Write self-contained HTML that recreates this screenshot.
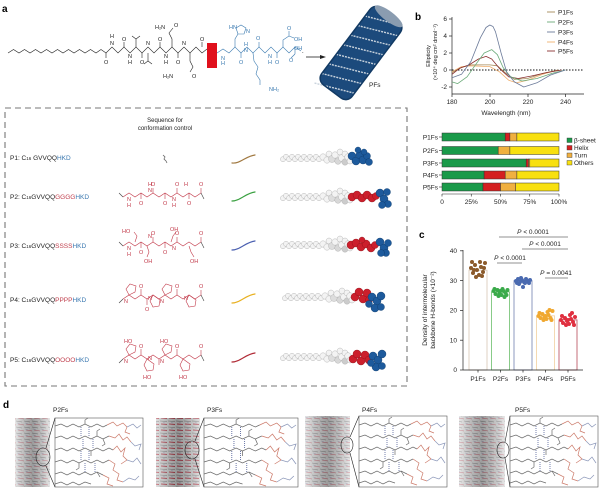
<!DOCTYPE html>
<html><head><meta charset="utf-8"><style>
html,body{margin:0;padding:0;background:#fff;}
svg{display:block;font-family:"Liberation Sans",Arial,sans-serif;}
</style></head><body>
<svg width="600" height="489" viewBox="0 0 600 489" xmlns="http://www.w3.org/2000/svg">
<defs>
<pattern id="fib" width="8" height="6" patternUnits="userSpaceOnUse">
<rect width="8" height="6" fill="#d4d4d4"/>
<line x1="0" y1="1" x2="6" y2="2" stroke="#6a6a6a" stroke-width="0.6"/>
<line x1="2" y1="4" x2="8" y2="5" stroke="#b84050" stroke-width="0.5"/>
<line x1="1" y1="3" x2="4" y2="3.5" stroke="#8090b8" stroke-width="0.4"/>
</pattern>
<pattern id="fib2" width="8" height="6" patternUnits="userSpaceOnUse">
<rect width="8" height="6" fill="#c8c8c8"/>
<line x1="0" y1="1" x2="7" y2="1.5" stroke="#555" stroke-width="0.6"/>
<line x1="1" y1="4" x2="7" y2="4.5" stroke="#a82030" stroke-width="0.9"/>
<line x1="3" y1="2.5" x2="5" y2="3" stroke="#7080a8" stroke-width="0.4"/>
</pattern>
<linearGradient id="fg" x1="0" x2="1" y1="0" y2="0">
<stop offset="0" stop-color="#fff" stop-opacity="0.45"/>
<stop offset="0.5" stop-color="#333" stop-opacity="0.35"/>
<stop offset="1" stop-color="#fff" stop-opacity="0.45"/>
</linearGradient>
<g id="zc" fill="none" stroke-width="0.7">
<g stroke="#6a6a6a">
<polyline points="0,8 6,6 12,9 18,6 24,9 30,6 36,9 42,6 48,9 52,7"/>
<polyline points="0,20 6,18 12,21 18,18 24,21 30,18 36,21 42,18 48,21 54,18"/>
<polyline points="0,32 6,30 12,33 18,30 24,33 30,30 36,33 42,30 48,33 54,30 58,32"/>
<polyline points="0,44 6,42 12,45 18,42 24,45 30,42 36,45 42,42 48,45 54,42"/>
<polyline points="0,56 6,54 12,57 18,54 24,57 30,54 36,57 42,54 48,57"/>
<polyline points="0,66 6,64 12,67 18,64 24,67 30,64 36,66"/>
<polyline points="30,6 30,2 33,0"/><polyline points="42,18 42,13 45,11"/>
<polyline points="36,33 36,38"/><polyline points="24,45 24,50 21,52"/>
<polyline points="48,21 50,26 47,28"/><polyline points="42,54 45,59"/>
</g>
<g stroke="#3a4a8a" stroke-dasharray="1,1">
<line x1="26" y1="9" x2="26" y2="18"/><line x1="34" y1="9" x2="34" y2="18"/>
<line x1="28" y1="21" x2="28" y2="30"/><line x1="38" y1="21" x2="38" y2="30"/>
<line x1="26" y1="33" x2="26" y2="42"/><line x1="34" y1="33" x2="34" y2="42"/>
<line x1="30" y1="45" x2="30" y2="54"/><line x1="40" y1="45" x2="40" y2="54"/>
</g>
<g stroke="#cc7a6a">
<polyline points="52,7 58,4 62,8 68,5 72,9 70,14 75,16"/>
<polyline points="54,18 60,20 64,16 68,22 72,19 76,24"/>
<polyline points="58,32 62,28 66,34 70,30 68,38 72,42 66,46"/>
<polyline points="54,42 60,46 58,52 64,56 62,62 68,64"/>
<polyline points="48,57 54,60 52,66 58,68"/>
</g>
<g stroke="#8a96b8">
<polyline points="72,9 78,6 82,10 86,7"/><polyline points="76,24 80,28 86,26 84,32"/>
<polyline points="72,42 78,44 82,40 86,46"/><polyline points="68,64 74,60 80,62 84,58"/>
</g>
</g>
<g id="wc" fill="#f3f3f3" stroke="#a8a8a8" stroke-width="0.4">
<circle cx="0" cy="1.2" r="2.6"/><circle cx="3" cy="-1.2" r="2.6"/><circle cx="6" cy="1.2" r="2.6"/><circle cx="9" cy="-1.2" r="2.6"/><circle cx="12" cy="1.2" r="2.6"/><circle cx="15" cy="-1.2" r="2.6"/><circle cx="18" cy="1.2" r="2.6"/><circle cx="21" cy="-1.2" r="2.6"/><circle cx="24" cy="1.2" r="2.6"/><circle cx="27" cy="-1.2" r="2.6"/><circle cx="30" cy="1.2" r="2.6"/><circle cx="33" cy="-1.2" r="2.6"/><circle cx="36" cy="1.2" r="2.6"/>
<circle cx="40" cy="-1" r="3.2"/><circle cx="44" cy="2" r="3.2"/><circle cx="46" cy="-4" r="3"/><circle cx="49" cy="1" r="3.5" fill="#ddd"/><circle cx="52" cy="-3" r="3.2"/><circle cx="55" cy="3" r="3.3" fill="#d8d8d8"/><circle cx="57" cy="-6" r="3"/><circle cx="59" cy="0" r="3.5"/><circle cx="62" cy="4" r="3.2" fill="#ccc"/><circle cx="62" cy="-4" r="3"/><circle cx="65" cy="-1" r="3.3"/><circle cx="67" cy="3" r="3"/>
</g>
</defs>
<rect width="600" height="489" fill="#fff"/>

<!-- ===== Panel a ===== -->
<text x="2" y="12" font-size="10" font-weight="bold">a</text>
<g fill="none" stroke="#222" stroke-width="0.6">
<polyline points="8,53 13.5,49.5 19,53 24.5,49.5 30,53 35.5,49.5 41,53 46.5,49.5 52,53 57.5,49.5 63,53 68.5,49.5 74,53 79.5,49.5 85,53 90.5,49.5 96,53 101,49.5"/>
<polyline points="101,49.5 106,53 112,47 118,53 124,47 130,53 136,47 142,53 148,47 154,53 160,47 166,53 172,47 178,53 184,47 190,53 196,47 202,53 207,49"/>
<line x1="106" y1="53" x2="106" y2="58"/><line x1="124" y1="47" x2="124" y2="42"/><line x1="142" y1="53" x2="142" y2="58"/><line x1="160" y1="47" x2="160" y2="42"/><line x1="178" y1="53" x2="178" y2="58"/><line x1="202" y1="47" x2="202" y2="42"/>
<polyline points="136,47 136,39 132,36"/><line x1="136" y1="39" x2="140" y2="36"/>
<polyline points="148,53 148,61 144,64"/><line x1="148" y1="61" x2="152" y2="64"/>
<polyline points="172,47 172,39 169,33 173,28"/>
<polyline points="190,53 190,61 193,67 190,72"/>
</g>
<g font-size="5.5" fill="#222">
<text x="104" y="64">O</text><text x="122" y="41">O</text><text x="140" y="64">O</text><text x="158" y="41">O</text><text x="176" y="64">O</text><text x="200" y="41">O</text>
<text x="110" y="38">H</text><text x="110" y="45">N</text><text x="128" y="58">N</text><text x="128" y="64">H</text>
<text x="146" y="45">N</text><text x="164" y="58">N</text><text x="164" y="64">H</text><text x="182" y="45">N</text>
<text x="155" y="29">H₂N</text><text x="174" y="27">O</text><text x="163" y="78">H₂N</text><text x="192" y="78">O</text>
</g>
<rect x="207" y="43" width="10" height="25" fill="#e0101c"/>
<g fill="none" stroke="#3a7ab0" stroke-width="0.6">
<polyline points="217,53 223,49 229,53 235,47 241,53 247,47 253,53 259,47 265,53 271,47 277,53 283,47 289,53 295,47 301,51"/>
<line x1="241" y1="53" x2="241" y2="58"/><line x1="259" y1="47" x2="259" y2="42"/><line x1="277" y1="53" x2="277" y2="58"/>
<polyline points="235,47 235,39 238,34"/>
<polygon points="238,34 236,28 241,25 246,28 244,34"/>
<polyline points="253,53 254,61 258,67 256,74 260,80 260,85"/>
<polyline points="283,47 283,40 289,36 289,31"/><line x1="289" y1="36" x2="294" y2="38"/>
<line x1="295" y1="47" x2="295" y2="54"/><line x1="295" y1="54" x2="291" y2="58"/>
</g>
<g font-size="5.5" fill="#3a7ab0">
<text x="229" y="29">HN</text><text x="246" y="33">N</text><text x="221" y="60">N</text><text x="221" y="65">H</text>
<text x="244" y="46">H</text><text x="244" y="52">N</text><text x="268" y="58">N</text><text x="268" y="64">H</text>
<text x="256" y="40">O</text><text x="239" y="64">O</text><text x="275" y="64">O</text>
<text x="287" y="30">O</text><text x="294" y="41">OH</text><text x="294" y="50">OH</text><text x="289" y="62">O</text>
<text x="269" y="91">NH₂</text>
</g>
<text x="302" y="53" font-size="6">.</text>
<line x1="306" y1="57" x2="322" y2="57" stroke="#222" stroke-width="0.8"/>
<polygon points="326,57 320,55 320,59" fill="#222"/>
<!-- fibril -->
<g transform="translate(361,53) rotate(-53)">
<rect x="-48" y="-19" width="96" height="38" rx="8" fill="#1c4a7c"/>
<g stroke="#c9d3dd" stroke-width="1.4" stroke-dasharray="2,1">
<line x1="-52" y1="-19" x2="-36" y2="19"/><line x1="-40" y1="-19" x2="-24" y2="19"/><line x1="-28" y1="-19" x2="-12" y2="19"/><line x1="-16" y1="-19" x2="0" y2="19"/><line x1="-4" y1="-19" x2="12" y2="19"/><line x1="8" y1="-19" x2="24" y2="19"/><line x1="20" y1="-19" x2="36" y2="19"/><line x1="32" y1="-19" x2="46" y2="15"/>
</g>
<rect x="-48" y="-19" width="96" height="38" rx="8" fill="none" stroke="#123a64" stroke-width="1.5"/>
<ellipse cx="46" cy="0" rx="5" ry="17" fill="#8a9cb0"/>
</g>
<text x="369" y="87" font-size="6.5" fill="#222">PFs</text>

<!-- dashed box -->
<rect x="5" y="108" width="402" height="278" fill="none" stroke="#777" stroke-width="1.1" stroke-dasharray="6,4"/>
<text x="165" y="122" font-size="6" text-anchor="middle" fill="#222">Sequence for</text>
<text x="165" y="130" font-size="6" text-anchor="middle" fill="#222">conformation control</text>

<g font-size="6.5" fill="#222">
<text x="10" y="160">P1:  C<tspan font-size="4.5">16</tspan> GVVQQ<tspan fill="#3a78b0">HKD</tspan></text>
<text x="10" y="199">P2:  C<tspan font-size="4.5">16</tspan>GVVQQ<tspan fill="#c0404e">GGGG</tspan><tspan fill="#3a78b0">HKD</tspan></text>
<text x="10" y="248">P3:  C<tspan font-size="4.5">16</tspan>GVVQQ<tspan fill="#c0404e">SSSS</tspan><tspan fill="#3a78b0">HKD</tspan></text>
<text x="10" y="302">P4:  C<tspan font-size="4.5">16</tspan>GVVQQ<tspan fill="#c0404e">PPPP</tspan><tspan fill="#3a78b0">HKD</tspan></text>
<text x="10" y="362">P5:  C<tspan font-size="4.5">16</tspan>GVVQQ<tspan fill="#c0404e">OOOO</tspan><tspan fill="#3a78b0">HKD</tspan></text>
</g>
<polyline points="163,155 165,157 164,159 166,161 167,163" fill="none" stroke="#666" stroke-width="0.8"/>

<!-- red structures -->
<g fill="none" stroke="#c23a4a" stroke-width="0.6">
<polyline points="123,197 129,193 135,197 141,193 147,197 153,193 159,197 165,193 171,197 177,193 183,197 189,193 195,197 201,193"/>
<line x1="141" y1="193" x2="141" y2="199"/><line x1="165" y1="193" x2="165" y2="199"/><line x1="189" y1="193" x2="189" y2="199"/><line x1="153" y1="193" x2="153" y2="188"/><line x1="177" y1="193" x2="177" y2="188"/><line x1="201" y1="193" x2="201" y2="188"/>
<polyline points="123,246 129,242 135,246 141,242 147,246 153,242 159,246 165,242 171,246 177,242 183,246 189,242 195,246 201,242"/>
<polyline points="135,242 137,236 134,232"/><polyline points="147,246 149,252 147,257"/><polyline points="171,242 173,236 176,232"/><polyline points="189,246 191,252 194,257"/>
<line x1="141" y1="242" x2="141" y2="248"/><line x1="165" y1="242" x2="165" y2="248"/><line x1="153" y1="242" x2="153" y2="237"/><line x1="177" y1="242" x2="177" y2="237"/><line x1="201" y1="242" x2="201" y2="237"/>
<polyline points="123,299 129,295 135,299 141,295 147,299 153,295 159,299 165,295 171,299 177,295 183,299 189,295 195,299 201,295"/>
<polygon points="129,295 126,289 130,284 136,286 135,292"/><polygon points="153,295 150,301 153,307 159,306 160,300"/><polygon points="165,295 162,289 166,284 172,286 171,292"/><polygon points="189,295 186,301 189,307 195,306 196,300"/>
<line x1="141" y1="295" x2="141" y2="289"/><line x1="177" y1="295" x2="177" y2="289"/><line x1="147" y1="299" x2="147" y2="305"/><line x1="201" y1="295" x2="201" y2="290"/>
<polyline points="123,359 129,355 135,359 141,355 147,359 153,355 159,359 165,355 171,359 177,355 183,359 189,355 195,359 201,355"/>
<polygon points="129,355 126,349 130,344 136,346 135,352"/><polygon points="147,359 144,365 147,371 153,370 154,364"/><polygon points="165,355 162,349 166,344 172,346 171,352"/><polygon points="183,359 180,365 183,371 189,370 190,364"/>
<line x1="141" y1="355" x2="141" y2="349"/><line x1="177" y1="355" x2="177" y2="349"/><line x1="159" y1="359" x2="159" y2="365"/><line x1="201" y1="355" x2="201" y2="350"/>
</g>
<g stroke="#444" stroke-width="0.6">
<line x1="119" y1="193" x2="123" y2="197"/><line x1="201" y1="193" x2="204" y2="199"/>
<line x1="119" y1="242" x2="123" y2="246"/><line x1="201" y1="242" x2="204" y2="248"/>
<line x1="119" y1="303" x2="123" y2="299"/><line x1="201" y1="295" x2="204" y2="301"/>
<line x1="119" y1="363" x2="123" y2="359"/><line x1="201" y1="355" x2="204" y2="361"/>
</g>
<g font-size="5.5" fill="#c23a4a">
<text x="127" y="201">N</text><text x="127" y="207">H</text><text x="139" y="205">O</text><text x="148" y="186">H</text><text x="148" y="192">N</text><text x="151" y="186">O</text><text x="163" y="205">O</text><text x="172" y="201">N</text><text x="172" y="207">H</text><text x="175" y="186">O</text><text x="184" y="186">H</text><text x="187" y="205">O</text><text x="199" y="186">O</text>
<text x="122" y="233">HO</text><text x="127" y="250">N</text><text x="127" y="256">H</text><text x="139" y="254">O</text><text x="144" y="263">OH</text><text x="148" y="238">N</text><text x="151" y="235">O</text><text x="170" y="231">OH</text><text x="172" y="250">N</text><text x="163" y="254">O</text><text x="175" y="235">O</text><text x="190" y="263">OH</text><text x="199" y="235">O</text>
<text x="124" y="303">N</text><text x="139" y="288">O</text><text x="145" y="311">O</text><text x="148" y="300">N</text><text x="160" y="303">N</text><text x="175" y="288">O</text><text x="184" y="300">N</text><text x="199" y="288">O</text>
<text x="124" y="343">HO</text><text x="124" y="363">N</text><text x="139" y="348">O</text><text x="143" y="379">HO</text><text x="148" y="360">N</text><text x="160" y="343">HO</text><text x="160" y="363">N</text><text x="175" y="348">O</text><text x="179" y="379">HO</text><text x="199" y="348">O</text>
</g>

<!-- ribbons -->
<g fill="none" stroke-width="1.2" stroke-linecap="round">
<path d="M232,163 C240,164 246,156 255,155" stroke="#a07840"/>
<path d="M232,201 C240,201 246,193 255,192" stroke="#3aa040"/>
<path d="M232,250 C240,250 246,242 255,241" stroke="#4a5fb0"/>
<path d="M232,303 C240,303 246,295 255,294" stroke="#e8b020"/>
<path d="M232,362 C240,362 246,354 255,353" stroke="#b02a35"/>
</g>

<!-- space filling -->
<use href="#wc" x="283" y="158"/>
<use href="#wc" x="283" y="197"/>
<use href="#wc" x="283" y="245"/>
<use href="#wc" x="285" y="297"/>
<use href="#wc" x="283" y="357"/>
<g fill="#1d5a9c" stroke="#0e3a6a" stroke-width="0.4">
<circle cx="352" cy="156" r="4"/><circle cx="356" cy="161" r="4"/><circle cx="360" cy="155" r="4"/><circle cx="363" cy="160" r="4"/><circle cx="367" cy="156" r="3.5"/><circle cx="369" cy="162" r="3.5"/><circle cx="358" cy="150" r="3"/><circle cx="364" cy="152" r="3"/>
</g>
<g fill="#cc1f2c" stroke="#8a1018" stroke-width="0.4">
<circle cx="352" cy="197" r="4"/><circle cx="357" cy="195" r="4"/><circle cx="362" cy="198" r="4"/><circle cx="367" cy="195" r="4"/><circle cx="372" cy="198" r="4"/><circle cx="376" cy="196" r="3.5"/>
<circle cx="351" cy="245" r="4"/><circle cx="356" cy="243" r="4"/><circle cx="361" cy="247" r="4"/><circle cx="366" cy="244" r="4"/><circle cx="371" cy="248" r="4"/><circle cx="375" cy="245" r="3.5"/><circle cx="362" cy="240" r="3"/>
<circle cx="355" cy="297" r="4"/><circle cx="359" cy="292" r="4"/><circle cx="363" cy="299" r="4"/><circle cx="367" cy="293" r="4"/><circle cx="369" cy="300" r="3.5"/>
<circle cx="353" cy="359" r="4"/><circle cx="357" cy="354" r="4"/><circle cx="361" cy="361" r="4"/><circle cx="365" cy="355" r="4"/><circle cx="369" cy="360" r="4"/>
</g>
<g fill="#1d5a9c" stroke="#0e3a6a" stroke-width="0.4">
<circle cx="380" cy="193" r="4"/><circle cx="384" cy="199" r="4"/><circle cx="387" cy="192" r="3.5"/><circle cx="388" cy="204" r="3.5"/><circle cx="382" cy="205" r="3.5"/>
<circle cx="380" cy="242" r="4"/><circle cx="384" cy="248" r="4"/><circle cx="388" cy="243" r="3.5"/><circle cx="386" cy="253" r="3.5"/><circle cx="381" cy="253" r="3.5"/>
<circle cx="372" cy="297" r="4"/><circle cx="377" cy="301" r="4"/><circle cx="381" cy="296" r="4"/><circle cx="375" cy="308" r="4"/><circle cx="381" cy="307" r="3.5"/><circle cx="369" cy="304" r="3.5"/>
<circle cx="373" cy="356" r="4"/><circle cx="378" cy="360" r="4"/><circle cx="382" cy="354" r="4"/><circle cx="376" cy="367" r="4"/><circle cx="382" cy="366" r="3.5"/><circle cx="371" cy="363" r="3.5"/>
</g>

<!-- ===== Panel b CD ===== -->
<text x="415" y="20" font-size="10" font-weight="bold">b</text>
<g stroke="#222" stroke-width="0.7" fill="none">
<line x1="452" y1="17" x2="452" y2="94"/><line x1="452" y1="94" x2="584" y2="94"/>
<line x1="449" y1="19" x2="452" y2="19"/><line x1="449" y1="36" x2="452" y2="36"/><line x1="449" y1="53" x2="452" y2="53"/><line x1="449" y1="70" x2="452" y2="70"/><line x1="449" y1="87" x2="452" y2="87"/>
<line x1="452" y1="94" x2="452" y2="97"/><line x1="490" y1="94" x2="490" y2="97"/><line x1="528" y1="94" x2="528" y2="97"/><line x1="565.6" y1="94" x2="565.6" y2="97"/>
</g>
<g font-size="6.5" fill="#222" text-anchor="end">
<text x="447" y="21">6</text><text x="447" y="38">4</text><text x="447" y="55">2</text><text x="447" y="72">0</text><text x="447" y="89">-2</text>
</g>
<g font-size="6.5" fill="#222" text-anchor="middle">
<text x="452" y="104">180</text><text x="490" y="104">200</text><text x="528" y="104">220</text><text x="565.6" y="104">240</text>
<text x="506" y="115">Wavelength (nm)</text>
</g>
<g font-size="5.6" fill="#222" text-anchor="middle">
<text transform="translate(430,56) rotate(-90)">Ellipticity</text>
<text transform="translate(437,52) rotate(-90)">(×10⁴ deg cm² dmol⁻¹)</text>
</g>
<line x1="452" y1="70" x2="584" y2="70" stroke="#111" stroke-width="1" stroke-dasharray="1.5,1.5"/>
<g fill="none" stroke-width="0.8" stroke-linejoin="round">
<polyline stroke="#f0b070" points="452,71.7 461.5,66.6 470.9,65.8 489.8,66.6 499.3,71.7 508.7,80.2 516.3,82.8 527.6,80.2 542.7,74.3 557.8,70"/>
<polyline stroke="#a48a5a" points="452,72.6 461.5,67.5 470.9,64.9 489.8,64.9 497.4,65.8 505,72.6 514.4,79.4 527.6,78.5 542.7,73.4 557.8,70"/>
<polyline stroke="#8b3030" points="452,74.3 459.6,68.3 469,64.9 478.5,59 486,56.4 491.7,59 499.3,68.3 508.7,76.8 518.2,78.5 531.4,76 546.5,72.6 561.6,70"/>
<polyline stroke="#6aaa78" points="452,81.9 457.7,83.6 467.1,76.8 476.6,63.2 484.2,53 491.7,49.6 497.4,54.7 503.1,67.5 510.6,76.8 522,81 537,78.5 552,73.4 565.4,70"/>
<polyline stroke="#6b7a99" points="452,77.7 461.5,74.3 470.9,61.5 480.4,37.7 486,27.5 489.8,25 493,26.5 495.5,31.8 501.1,53 506.8,72.6 514.4,81.9 523.8,87 537,82.8 550.3,75.1 565.4,70"/>
</g>
<g stroke-width="0.9">
<line x1="547" y1="12" x2="555" y2="12" stroke="#a48a5a"/>
<line x1="547" y1="22" x2="555" y2="22" stroke="#6aaa78"/>
<line x1="547" y1="32" x2="555" y2="32" stroke="#6b7a99"/>
<line x1="547" y1="42" x2="555" y2="42" stroke="#f0b070"/>
<line x1="547" y1="51" x2="555" y2="51" stroke="#8b3030"/>
</g>
<g font-size="6.5" fill="#222">
<text x="558" y="14.5">P1Fs</text><text x="558" y="24.5">P2Fs</text><text x="558" y="34.5">P3Fs</text><text x="558" y="44.5">P4Fs</text><text x="558" y="53.5">P5Fs</text>
</g>

<!-- ===== Panel b bars ===== -->
<g stroke="#333" stroke-width="0.5">
<rect x="442" y="133" width="63.2" height="8" fill="#1a9a4a"/><rect x="505.2" y="133" width="4.7" height="8" fill="#d42020"/><rect x="509.9" y="133" width="7" height="8" fill="#f0b040"/><rect x="516.9" y="133" width="42.1" height="8" fill="#f8e010"/>
<rect x="442" y="146.5" width="56.2" height="8" fill="#1a9a4a"/><rect x="498.2" y="146.5" width="11.7" height="8" fill="#f0b040"/><rect x="509.9" y="146.5" width="49.1" height="8" fill="#f8e010"/>
<rect x="442" y="159" width="84.2" height="8" fill="#1a9a4a"/><rect x="526.2" y="159" width="2.3" height="8" fill="#d42020"/><rect x="528.5" y="159" width="1.3" height="8" fill="#f0b040"/><rect x="529.8" y="159" width="29.2" height="8" fill="#f8e010"/>
<rect x="442" y="171" width="42.1" height="8" fill="#1a9a4a"/><rect x="484.1" y="171" width="21.1" height="8" fill="#d42020"/><rect x="505.2" y="171" width="11.7" height="8" fill="#f0b040"/><rect x="516.9" y="171" width="42.1" height="8" fill="#f8e010"/>
<rect x="442" y="183" width="41" height="8" fill="#1a9a4a"/><rect x="483" y="183" width="17.5" height="8" fill="#d42020"/><rect x="500.5" y="183" width="15.2" height="8" fill="#f0b040"/><rect x="515.7" y="183" width="43.3" height="8" fill="#f8e010"/>
</g>
<g stroke="#222" stroke-width="0.6">
<line x1="442" y1="194" x2="559" y2="194"/>
<line x1="442" y1="194" x2="442" y2="196.5"/><line x1="471.25" y1="194" x2="471.25" y2="196.5"/><line x1="500.5" y1="194" x2="500.5" y2="196.5"/><line x1="529.75" y1="194" x2="529.75" y2="196.5"/><line x1="559" y1="194" x2="559" y2="196.5"/>
<line x1="439" y1="137" x2="442" y2="137"/><line x1="439" y1="150.5" x2="442" y2="150.5"/><line x1="439" y1="163" x2="442" y2="163"/><line x1="439" y1="175" x2="442" y2="175"/><line x1="439" y1="187" x2="442" y2="187"/>
</g>
<g font-size="6.5" fill="#222" text-anchor="end">
<text x="438" y="139.5">P1Fs</text><text x="438" y="153">P2Fs</text><text x="438" y="165.5">P3Fs</text><text x="438" y="177.5">P4Fs</text><text x="438" y="189.5">P5Fs</text>
</g>
<g font-size="6.5" fill="#222" text-anchor="middle">
<text x="442" y="204">0</text><text x="471.25" y="204">25%</text><text x="500.5" y="204">50%</text><text x="529.75" y="204">75%</text><text x="559" y="204">100%</text>
</g>
<g stroke="#333" stroke-width="0.4">
<rect x="567" y="138" width="5" height="4.5" fill="#1a9a4a"/><rect x="567" y="145.5" width="5" height="4.5" fill="#d42020"/><rect x="567" y="153" width="5" height="4.5" fill="#f0b040"/><rect x="567" y="160.5" width="5" height="4.5" fill="#f8e010"/>
</g>
<g font-size="6.5" fill="#222">
<text x="574" y="142.5">β-sheet</text><text x="574" y="150">Helix</text><text x="574" y="157.5">Turn</text><text x="574" y="165">Others</text>
</g>

<!-- ===== Panel c ===== -->
<text x="419" y="238" font-size="10" font-weight="bold">c</text>
<g stroke-width="0.8" fill="#fff">
<rect x="469" y="270.2" width="18" height="99.8" stroke="#d8c6b4"/>
<rect x="491.5" y="291.9" width="18" height="78.1" stroke="#6cbf6c"/>
<rect x="514" y="280.6" width="18" height="89.4" stroke="#7080b0"/>
<rect x="536.5" y="315.8" width="18" height="54.2" stroke="#f2d0a0"/>
<rect x="559" y="319.9" width="18" height="50.1" stroke="#b84858"/>
</g>
<g stroke="#222" stroke-width="0.7">
<line x1="463" y1="250" x2="463" y2="370"/><line x1="463" y1="370" x2="583" y2="370"/>
<line x1="460" y1="250.8" x2="463" y2="250.8"/><line x1="460" y1="280.6" x2="463" y2="280.6"/><line x1="460" y1="310.4" x2="463" y2="310.4"/><line x1="460" y1="340.2" x2="463" y2="340.2"/><line x1="460" y1="370" x2="463" y2="370"/>
<line x1="478" y1="370" x2="478" y2="372.5"/><line x1="500.5" y1="370" x2="500.5" y2="372.5"/><line x1="523" y1="370" x2="523" y2="372.5"/><line x1="545.5" y1="370" x2="545.5" y2="372.5"/><line x1="568" y1="370" x2="568" y2="372.5"/>
</g>
<g font-size="6.5" fill="#222" text-anchor="end">
<text x="457" y="253">40</text><text x="457" y="283">30</text><text x="457" y="312.5">20</text><text x="457" y="342.5">10</text><text x="457" y="372">0</text>
</g>
<g font-size="6.5" fill="#222" text-anchor="middle">
<text x="478" y="381">P1Fs</text><text x="500.5" y="381">P2Fs</text><text x="523" y="381">P3Fs</text><text x="545.5" y="381">P4Fs</text><text x="568" y="381">P5Fs</text>
<text transform="translate(427,310) rotate(-90)">Density of intermolecular</text>
<text transform="translate(435,310) rotate(-90)">backbone H-bonds (×10⁻²)</text>
</g>
<g fill="#8b5a2b">
<circle cx="471" cy="268" r="2"/><circle cx="473" cy="273" r="2"/><circle cx="475" cy="265" r="2"/><circle cx="477" cy="270" r="2"/><circle cx="479" cy="275" r="2"/><circle cx="481" cy="267" r="2"/><circle cx="483" cy="272" r="2"/><circle cx="485" cy="263" r="2"/><circle cx="472" cy="262" r="2"/><circle cx="476" cy="277" r="2"/><circle cx="480" cy="262" r="2"/><circle cx="484" cy="268" r="2"/><circle cx="474" cy="270" r="2"/><circle cx="482" cy="276" r="2"/>
</g>
<g fill="#3aaa4a">
<circle cx="493.5" cy="291" r="2"/><circle cx="495.5" cy="294" r="2"/><circle cx="497.5" cy="290" r="2"/><circle cx="499.5" cy="293" r="2"/><circle cx="501.5" cy="295" r="2"/><circle cx="503.5" cy="291" r="2"/><circle cx="505.5" cy="293" r="2"/><circle cx="507.5" cy="290" r="2"/><circle cx="494.5" cy="289" r="2"/><circle cx="498.5" cy="296" r="2"/><circle cx="502.5" cy="289" r="2"/><circle cx="506.5" cy="295" r="2"/><circle cx="500.5" cy="291" r="2"/><circle cx="504.5" cy="297" r="2"/>
</g>
<g fill="#4a6ab0">
<circle cx="516" cy="281" r="2"/><circle cx="518" cy="279" r="2"/><circle cx="520" cy="282" r="2"/><circle cx="522" cy="280" r="2"/><circle cx="524" cy="282" r="2"/><circle cx="526" cy="279" r="2"/><circle cx="528" cy="281" r="2"/><circle cx="530" cy="280" r="2"/><circle cx="517" cy="283" r="2"/><circle cx="521" cy="278" r="2"/><circle cx="525" cy="283" r="2"/><circle cx="529" cy="283" r="2"/><circle cx="523" cy="287" r="2"/><circle cx="519" cy="284" r="2"/>
</g>
<g fill="#f0a830">
<circle cx="538.5" cy="316" r="2"/><circle cx="540.5" cy="318" r="2"/><circle cx="542.5" cy="314" r="2"/><circle cx="544.5" cy="317" r="2"/><circle cx="546.5" cy="319" r="2"/><circle cx="548.5" cy="315" r="2"/><circle cx="550.5" cy="318" r="2"/><circle cx="552.5" cy="311" r="2"/><circle cx="539.5" cy="313" r="2"/><circle cx="543.5" cy="320" r="2"/><circle cx="547.5" cy="312" r="2"/><circle cx="551.5" cy="320" r="2"/><circle cx="545.5" cy="316" r="2"/><circle cx="549.5" cy="310" r="2"/>
</g>
<g fill="#e03040">
<circle cx="561" cy="320" r="2"/><circle cx="563" cy="323" r="2"/><circle cx="565" cy="318" r="2"/><circle cx="567" cy="321" r="2"/><circle cx="569" cy="324" r="2"/><circle cx="571" cy="319" r="2"/><circle cx="573" cy="322" r="2"/><circle cx="575" cy="317" r="2"/><circle cx="562" cy="316" r="2"/><circle cx="566" cy="325" r="2"/><circle cx="570" cy="315" r="2"/><circle cx="574" cy="325" r="2"/><circle cx="568" cy="320" r="2"/><circle cx="572" cy="313" r="2"/>
</g>
<g stroke="#222" stroke-width="0.6">
<line x1="499" y1="237" x2="568" y2="237"/>
<line x1="522" y1="249" x2="568" y2="249"/>
<line x1="497" y1="263" x2="522" y2="263"/>
<line x1="545" y1="278" x2="568" y2="278"/>
</g>
<g font-size="6.5" fill="#222" text-anchor="middle">
<text x="533" y="234"><tspan font-style="italic">P</tspan> &lt; 0.0001</text>
<text x="545" y="246"><tspan font-style="italic">P</tspan> &lt; 0.0001</text>
<text x="510" y="260"><tspan font-style="italic">P</tspan> &lt; 0.0001</text>
<text x="556" y="275"><tspan font-style="italic">P</tspan> = 0.0041</text>
</g>

<!-- ===== Panel d ===== -->
<text x="3" y="408" font-size="10" font-weight="bold">d</text>
<g font-size="6.5" fill="#222">
<text x="53" y="412">P2Fs</text><text x="207" y="412">P3Fs</text><text x="362" y="412">P4Fs</text><text x="515" y="412">P5Fs</text>
</g>
<rect x="15" y="418" width="35" height="69" fill="url(#fib)"/>
<rect x="15" y="418" width="35" height="69" fill="url(#fg)"/>
<rect x="156" y="418" width="44" height="69" fill="url(#fib2)"/>
<rect x="156" y="418" width="44" height="69" fill="url(#fg)"/>
<rect x="305" y="416" width="45" height="71" fill="url(#fib)"/>
<rect x="305" y="416" width="45" height="71" fill="url(#fg)"/>
<rect x="459" y="416" width="46" height="71" fill="url(#fib)"/>
<rect x="459" y="416" width="46" height="71" fill="url(#fg)"/>
<g fill="#fff" stroke="#555" stroke-width="0.6">
<rect x="55" y="418" width="88" height="69"/>
<rect x="204" y="418" width="94" height="69"/>
<rect x="359" y="416" width="88" height="71"/>
<rect x="510" y="416" width="88" height="71"/>
</g>
<use href="#zc" x="55" y="418"/>
<use href="#zc" transform="translate(204,418) scale(1.07,1)"/>
<use href="#zc" x="359" y="417"/>
<use href="#zc" x="510" y="417"/>
<g fill="none" stroke="#222" stroke-width="0.6">
<ellipse cx="43" cy="457" rx="7" ry="9"/><line x1="46" y1="448" x2="55" y2="418"/><line x1="46" y1="466" x2="55" y2="487"/>
<ellipse cx="192" cy="450" rx="7" ry="9"/><line x1="195" y1="441" x2="204" y2="418"/><line x1="195" y1="459" x2="204" y2="487"/>
<ellipse cx="347" cy="445" rx="6" ry="8"/><line x1="350" y1="437" x2="359" y2="416"/><line x1="350" y1="453" x2="359" y2="487"/>
<ellipse cx="503" cy="450" rx="6" ry="8"/><line x1="505" y1="442" x2="510" y2="416"/><line x1="505" y1="458" x2="510" y2="487"/>
</g>
</svg>
</body></html>
